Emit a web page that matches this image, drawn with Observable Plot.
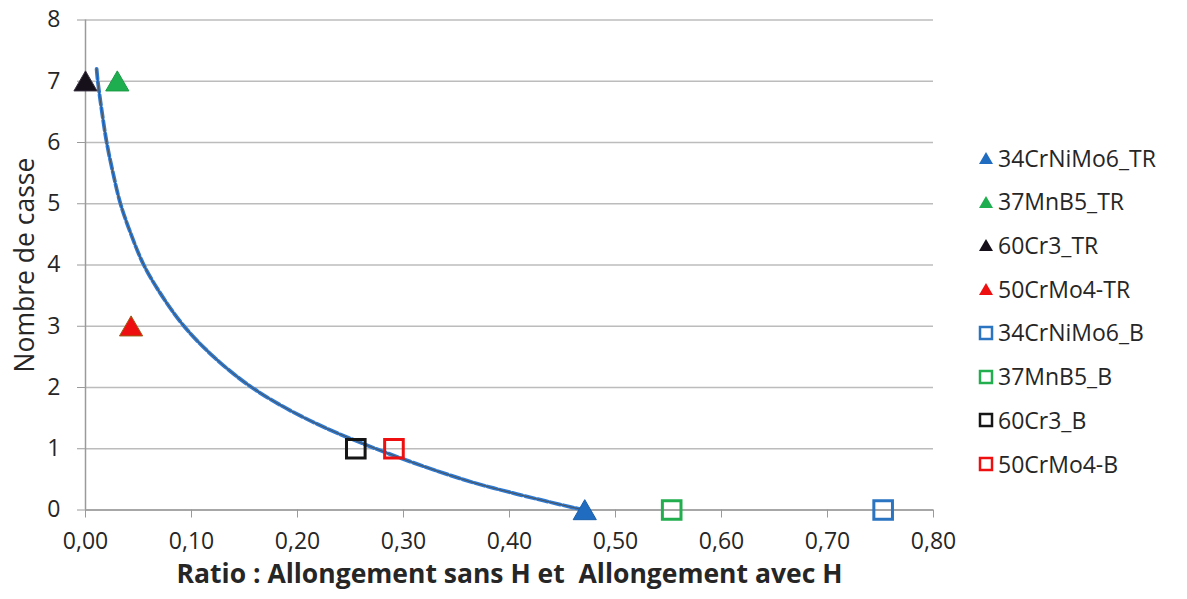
<!DOCTYPE html>
<html><head><meta charset="utf-8">
<script src="https://cdn.jsdelivr.net/npm/d3@7"></script>
<script src="https://cdn.jsdelivr.net/npm/@observablehq/plot@0.6"></script>
<style>
body{margin:0;background:#fff;font-family:"Open Sans",sans-serif;}
#wrap{position:relative;width:1187px;height:599px;overflow:hidden}
#legend{position:absolute;left:0;top:0;}
.item{position:absolute;display:flex;align-items:center;font-size:23px;color:#262626;white-space:nowrap;line-height:1}
.item svg{margin-right:4px}
svg text{white-space:pre}
</style></head><body><div id="wrap"><div id="chart"></div><div id="legend"></div></div>
<script>
// Series (markers)
const seriesNames = ["34CrNiMo6_TR","37MnB5_TR","60Cr3_TR","50CrMo4-TR","34CrNiMo6_B","37MnB5_B","60Cr3_B","50CrMo4-B"];
const ratios      = [0.471, 0.030, 0.000, 0.043, 0.7525, 0.553, 0.255, 0.291];
const casses      = [0, 7, 7, 3, 0, 0, 1, 1];
const shapes      = ["triangle","triangle","triangle","triangle","square","square","square","square"];
const colors      = ["#1f6cc0","#1fae4f","#15101a","#ee1010","#2a74c2","#22ae4f","#151515","#ee1010"];
const outlines    = ["#1a5ea8","#179a43","#3a3040","#9a5a10","#2a74c2","#22ae4f","#151515","#ee1010"];
// Trend curve
const trendX = [0.0105, 0.0116, 0.0155, 0.020, 0.026, 0.033, 0.043, 0.055, 0.072, 0.093, 0.121, 0.157, 0.207, 0.274, 0.356, 0.407, 0.470];
const trendY = [7.2, 7.0, 6.5, 6.0, 5.5, 5.0, 4.5, 4.0, 3.5, 3.0, 2.5, 2.0, 1.5, 1.0, 0.5, 0.26, 0.0];
// Ticks and titles
const xTicks = [0, 0.1, 0.2, 0.3, 0.4, 0.5, 0.6, 0.7, 0.8];
const yTicks = [0, 1, 2, 3, 4, 5, 6, 7, 8];
const xTitle = "Ratio : Allongement sans H et  Allongement avec H";
const yTitle = "Nombre de casse";

const pts = seriesNames.map((name, i) => ({name, x: ratios[i], y: casses[i], shape: shapes[i], color: colors[i], outline: outlines[i]}));
const trend = trendX.map((x, i) => ({x, y: trendY[i]}));

const chart = Plot.plot({
  width: 1187, height: 599,
  marginLeft: 85, marginRight: 254, marginTop: 19.5, marginBottom: 89.5,
  x: {domain: [0, 0.8]},
  y: {domain: [0, 8]},
  color: {type: "identity"},
  style: {fontFamily: "'Open Sans', sans-serif", fontSize: "23px", color: "#262626", background: "white"},
  marks: [
    Plot.gridY(yTicks, {stroke: "#bcbcbc", strokeOpacity: 1, strokeWidth: 1.5}),
    Plot.ruleX([0], {stroke: "#9a9a9a", strokeWidth: 1.5}),
    Plot.ruleY([0], {stroke: "#9a9a9a", strokeWidth: 1.5}),
    Plot.axisX(xTicks, {tickFormat: d => d.toFixed(2).replace(".", ","), tickSize: 8, tickPadding: 15, stroke: "#9a9a9a", fill: "#262626", label: null}),
    Plot.axisY(yTicks, {tickFormat: d => String(d), tickSize: 8, tickPadding: 17, stroke: "#9a9a9a", fill: "#262626", label: null}),
    Plot.line(trend, {x: "x", y: "y", stroke: "#2f7bd4", strokeWidth: 3.8, strokeDasharray: "10,3", curve: "catmull-rom"}),
    Plot.line(trend, {x: "x", y: "y", stroke: "#505050", strokeWidth: 1, curve: "catmull-rom"}),
    Plot.dot(pts.filter(d => d.shape === "square"), {x: "x", y: "y", symbol: "square", r: 10.5, fill: "none", stroke: "color", strokeWidth: 3}),
    Plot.dot(pts.filter(d => d.shape === "triangle"), {x: "x", y: "y", symbol: "triangle", r: 8.6, fill: "color", stroke: "outline", strokeWidth: 1, dy: 3}),
    Plot.text([xTitle], {frameAnchor: "bottom", dy: 73, fontWeight: "bold", fontSize: 26.5, fill: "#262626"}),
    Plot.text([yTitle], {frameAnchor: "left", textAnchor: "middle", dx: -60, rotate: -90, fontSize: 26.5, fill: "#262626"})
  ]
});
document.getElementById("chart").appendChild(chart);

// Legend
const legend = document.getElementById("legend");
const rowY = [158, 201.7, 245.4, 289, 332.8, 376.5, 420.2, 464];
pts.forEach((d, i) => {
  const item = document.createElement("div");
  item.className = "item";
  item.style.left = "978px";
  item.style.top = (rowY[i] - 15) + "px";
  item.style.height = "30px";
  const marker = d.shape === "triangle"
    ? `<svg width="16" height="16" viewBox="0 0 16 16"><polygon points="8,2 15,14 1,14" fill="${d.color}"/></svg>`
    : `<svg width="16" height="16" viewBox="0 0 16 16"><rect x="2" y="2" width="12" height="12" fill="none" stroke="${d.color}" stroke-width="2.5"/></svg>`;
  item.innerHTML = marker + `<span>${d.name}</span>`;
  legend.appendChild(item);
});
</script>
</body></html>
